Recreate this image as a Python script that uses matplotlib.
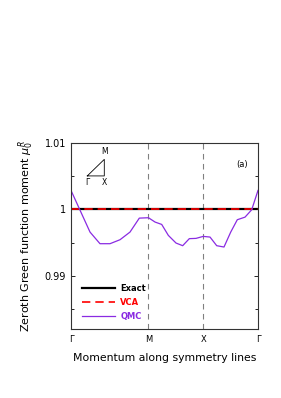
import numpy as np
import matplotlib
matplotlib.use("Agg")
import matplotlib.pyplot as plt
from matplotlib.ticker import MultipleLocator

# symmetry points (units of pi): Gamma -> M -> X -> Gamma
sym_pos = [0.0, np.sqrt(2), np.sqrt(2) + 1, np.sqrt(2) + 2]
sym_labels = ["Γ", "M", "X", "Γ"]

# QMC zeroth moment along the path
qmc_k = [0.0, 0.347, 0.529, 0.712, 0.895, 1.077, 1.247, 1.414, 1.534, 1.656,
         1.777, 1.917, 2.039, 2.160, 2.282, 2.414, 2.538, 2.660, 2.793, 2.916,
         3.036, 3.177, 3.299, 3.414]
qmc_mu = [1.00286, 0.99659, 0.99484, 0.99484, 0.99544, 0.99659, 0.99869, 0.99875,
          0.99810, 0.99774, 0.99609, 0.99494, 0.99454, 0.99560, 0.99564, 0.99594,
          0.99584, 0.99454, 0.99434, 0.99659, 0.99845, 0.99884, 0.99995, 1.00286]

exact_mu = 1.0
vca_mu = 1.0

plt.rcParams['font.family'] = ['DejaVu Sans']

fig = plt.figure(figsize=(2.81, 3.98), dpi=100)
ax = fig.add_axes([0.2527, 0.1734, 0.6655, 0.4673])

kk = [sym_pos[0], sym_pos[-1]]
ax.plot(kk, [exact_mu, exact_mu], color="black", lw=1.6, label="Exact")
ax.plot(kk, [vca_mu, vca_mu], color="red", lw=1.2, ls=(0, (5, 3)), label="VCA")
ax.plot(qmc_k, qmc_mu, color="#8a2be2", lw=0.9, label="QMC")

for p in sym_pos[1:3]:
    ax.axvline(p, color="gray", lw=0.8, ls=(0, (5, 4)), zorder=0)

ax.set_xlim(sym_pos[0], sym_pos[-1])
ax.set_ylim(0.982, 1.01)
ax.set_xticks(sym_pos)
ax.set_xticklabels(sym_labels)
ax.set_yticks([0.99, 1.0, 1.01])
ax.set_yticklabels(["0.99", "1", "1.01"])
ax.yaxis.set_minor_locator(MultipleLocator(0.005))
ax.tick_params(axis="x", length=0, labelsize=6, pad=4)
ax.tick_params(axis="y", which="both", direction="in", right=True, labelsize=7, width=0.6)
ax.tick_params(axis="y", which="major", length=3)
ax.tick_params(axis="y", which="minor", length=2)
for s in ax.spines.values():
    s.set_linewidth(0.8)
    s.set_color("#333333")

ax.set_xlabel("Momentum along symmetry lines", fontsize=7.8, labelpad=7)
ax.set_ylabel(r"Zeroth Green function moment $\mu_0^R$", fontsize=8, labelpad=6)

leg = ax.legend(loc="center left", frameon=False, fontsize=6, handlelength=4.0,
                handletextpad=0.6, borderpad=0, borderaxespad=0, labelspacing=0.6,
                bbox_to_anchor=(0.059, 0.143))
for txt, c in zip(leg.get_texts(), ["black", "red", "#8a2be2"]):
    txt.set_color(c)
    txt.set_fontweight("bold")

# small inset triangle of the Brillouin zone path
tri_x = [0.087, 0.178, 0.178, 0.087]
tri_y = [0.823, 0.912, 0.823, 0.823]
ax.plot(tri_x, tri_y, color="black", lw=0.6, transform=ax.transAxes)
ax.text(0.178, 0.93, "M", transform=ax.transAxes, fontsize=5.5, ha="center", va="bottom")
ax.text(0.085, 0.81, "Γ", transform=ax.transAxes, fontsize=5.5, ha="center", va="top")
ax.text(0.178, 0.81, "X", transform=ax.transAxes, fontsize=5.5, ha="center", va="top")
ax.text(0.913, 0.882, "(a)", transform=ax.transAxes, fontsize=6, ha="center", va="center")

fig.savefig("out.png", dpi=100)
